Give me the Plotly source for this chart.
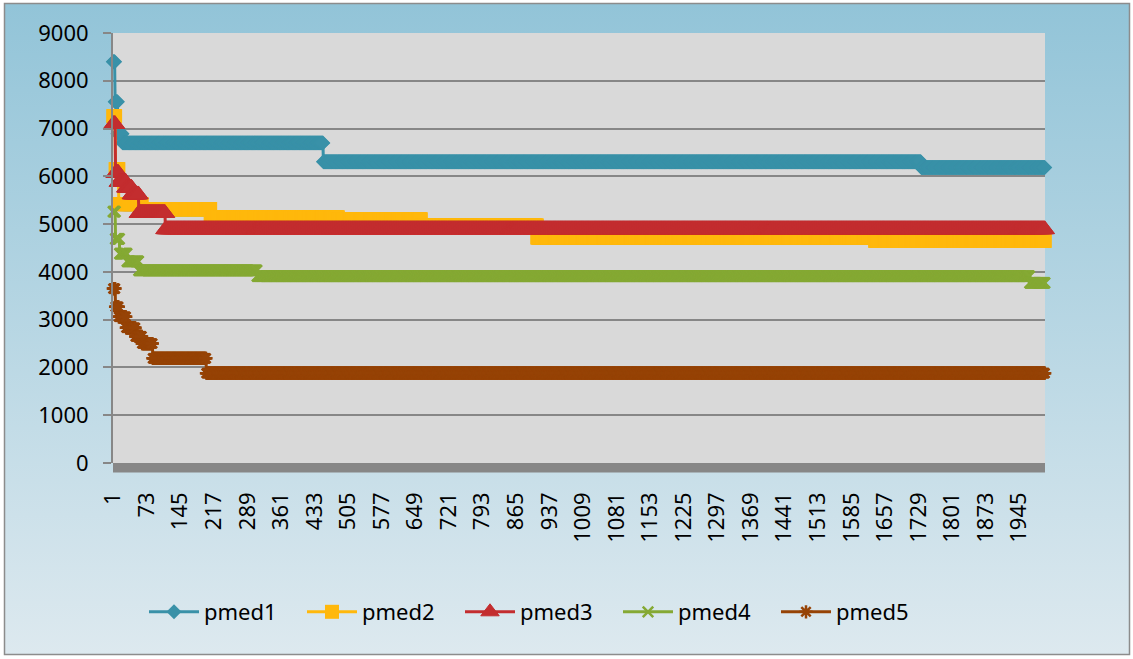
import base64
import numpy as np
import plotly.graph_objects as go

# Iterations on the category axis
N_ITER = 2000
categories = list(range(1, N_ITER + 1))
tick_every = 72

# Best objective found so far: first iteration of each level and the level
pmed1_starts = [1, 5, 11, 21, 452, 1735]
pmed1_levels = [8400, 7560, 6890, 6700, 6305, 6185]

pmed2_starts = [1, 6, 13, 63, 210, 484, 662, 911, 1636]
pmed2_levels = [7260, 6150, 5420, 5315, 5140, 5100, 4970, 4720, 4650]

pmed3_starts = [1, 6, 13, 29, 41, 56, 113]
pmed3_levels = [7090, 6070, 5880, 5760, 5620, 5230, 4890]

pmed4_starts = [1, 6, 15, 31, 56, 310, 1968]
pmed4_levels = [5260, 4690, 4380, 4220, 4030, 3910, 3770]

pmed5_starts = [1, 6, 13, 29, 49, 63, 86, 201]
pmed5_levels = [3650, 3270, 3060, 2830, 2650, 2500, 2190, 1880]

series_names = ["pmed1", "pmed2", "pmed3", "pmed4", "pmed5"]


def expand(starts, levels, n=N_ITER):
    """Turn (start, level) runs into one value per iteration."""
    ends = starts[1:] + [n + 1]
    lengths = [e - s for s, e in zip(starts, ends)]
    return np.repeat(levels, lengths)


series_values = [
    expand(pmed1_starts, pmed1_levels),
    expand(pmed2_starts, pmed2_levels),
    expand(pmed3_starts, pmed3_levels),
    expand(pmed4_starts, pmed4_levels),
    expand(pmed5_starts, pmed5_levels),
]

colors = ["#3991a8", "#ffb80c", "#c32d2f", "#85a934", "#964306"]
markers = [
    dict(symbol="diamond", size=11.5, line=dict(width=0)),
    dict(symbol="square", size=14, line=dict(width=0)),
    dict(symbol="triangle-up", size=17, line=dict(width=1)),
    dict(symbol="x-thin", size=10.5, line=dict(width=2.5)),
    dict(symbol="asterisk", size=11, line=dict(width=2.5)),
]

# Page and plot-area geometry (pixels)
W, H = 1133, 659
L, R, T, B = 113, 1045, 33, 463
PW, PH = R - L, B - T


def px_x(x):
    return (x - L) / PW


def px_y(y):
    return (B - y) / PH


fig = go.Figure()
for name, vals, col, mk in zip(series_names, series_values, colors, markers):
    mk = dict(mk)
    mk["color"] = col
    mk["line"] = dict(mk["line"], color=col)
    fig.add_trace(go.Scatter(
        x=categories, y=vals, name=name, mode="lines+markers",
        line=dict(color=col, width=3), marker=mk, cliponaxis=False,
    ))

# Chart-area gradient fill
grad_svg = (
    "<svg xmlns='http://www.w3.org/2000/svg' width='200' height='200' preserveAspectRatio='none'>"
    "<defs><linearGradient id='g' x1='0' y1='0' x2='0' y2='1'>"
    "<stop offset='0' stop-color='#92c4d8'/><stop offset='1' stop-color='#dde9ef'/>"
    "</linearGradient></defs><rect width='200' height='200' fill='url(#g)'/></svg>"
)
grad_uri = "data:image/svg+xml;base64," + base64.b64encode(grad_svg.encode()).decode()

fig.update_layout(
    width=W, height=H,
    margin=dict(l=L, r=W - R, t=T, b=H - B, pad=0),
    paper_bgcolor="white",
    plot_bgcolor="rgba(0,0,0,0)",
    font=dict(family="Noto Sans", size=22, color="black"),
    images=[dict(
        source=grad_uri, xref="paper", yref="paper",
        x=px_x(4), y=px_y(3), sizex=(1130 - 4) / PW, sizey=(655 - 3) / PH,
        xanchor="left", yanchor="top", sizing="stretch", layer="below",
    )],
    shapes=[
        # plot area fill
        dict(type="rect", xref="paper", yref="paper", x0=0, x1=1, y0=0, y1=1,
             fillcolor="#d9d9d9", line=dict(width=0), layer="below"),
        # heavy category axis bar
        dict(type="rect", xref="paper", yref="paper", x0=0, x1=1,
             y0=px_y(472.5), y1=0, fillcolor="#878787", line=dict(width=0),
             layer="above"),
        # chart-area border
        dict(type="rect", xref="paper", yref="paper",
             x0=px_x(4.5), x1=px_x(1129.5), y0=px_y(654.5), y1=px_y(3.5),
             line=dict(color="#8c8c8c", width=1.5), fillcolor="rgba(0,0,0,0)",
             layer="below"),
    ],
    xaxis=dict(
        range=[0.5, N_ITER + 0.5], tickmode="array",
        tickvals=categories[::tick_every],
        ticktext=[str(c) for c in categories[::tick_every]],
        tickangle=-90, showgrid=False, showline=False, zeroline=False,
        ticks="", ticklabelstandoff=24,
    ),
    yaxis=dict(
        range=[0, 9000], dtick=1000, tick0=0,
        showgrid=True, gridcolor="#878787", gridwidth=2,
        showline=True, linecolor="#878787", linewidth=2,
        ticks="outside", ticklen=8, tickwidth=2, tickcolor="#878787",
        zeroline=False, ticklabelstandoff=10,
    ),
    legend=dict(
        orientation="h", x=px_x(539), xanchor="center",
        y=px_y(612), yanchor="middle", bgcolor="rgba(0,0,0,0)",
        font=dict(size=22), itemwidth=50,
        entrywidth=93, entrywidthmode="pixels",
    ),
)

fig.write_html("out.html")
